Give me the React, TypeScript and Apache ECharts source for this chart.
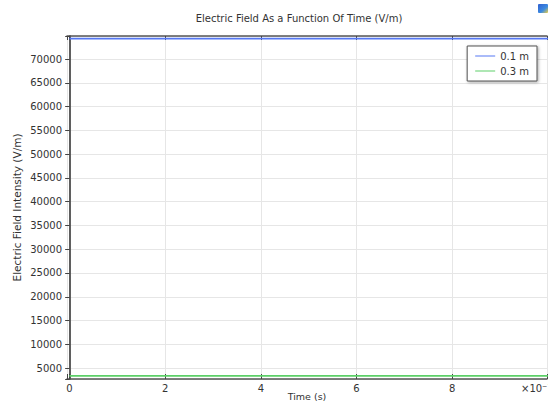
import React, { useEffect, useRef } from "react";
import * as echarts from "echarts";

const times = [0, 2, 4, 6, 8, 10];
const field01 = [74300, 74300, 74300, 74300, 74300, 74300];
const field03 = [3350, 3350, 3350, 3350, 3350, 3350];
const seriesNames = ["0.1 m", "0.3 m"];
const xTickLabels = ["0", "2", "4", "6", "8"];

const FONT = "DejaVu Sans, Noto Sans, sans-serif";

export default function App() {
  const ref = useRef<HTMLDivElement>(null);
  useEffect(() => {
    document.body.style.margin = "0";
    const chart = echarts.init(ref.current!, null, { renderer: "svg" });
    const pairs = (vals: number[]) => times.map((t, i) => [t, vals[i]]);
    const xLabel = (v: number) => {
      const idx = times.indexOf(v);
      return idx >= 0 && idx < xTickLabels.length ? xTickLabels[idx] : "";
    };
    chart.setOption({
      animation: false,
      backgroundColor: "#ffffff",
      textStyle: { fontFamily: FONT },
      title: {
        text: "Electric Field As a Function Of Time (V/m)",
        left: 294,
        textAlign: "center",
        top: 8,
        textStyle: { fontSize: 10, fontWeight: "normal", color: "#333", fontFamily: FONT },
      },
      grid: { left: 67, right: 1, top: 36, bottom: 26, outerBoundsMode: "none", containLabel: false },
      legend: {
        orient: "vertical",
        right: 11,
        top: 46,
        data: seriesNames,
        backgroundColor: "#fff",
        borderColor: "#555",
        borderWidth: 1,
        shadowColor: "rgba(0,0,0,0.35)",
        shadowBlur: 3,
        shadowOffsetX: 1,
        shadowOffsetY: 1,
        padding: [5, 8, 5, 8],
        itemGap: 5,
        itemWidth: 20,
        itemHeight: 10,
        textStyle: { fontSize: 10, color: "#333", fontFamily: FONT },
        icon: "path://M0,4.5 L20,4.5 L20,5.5 L0,5.5 Z",
      },
      xAxis: [
        {
          type: "value",
          min: -0.05,
          max: 9.98,
          minInterval: 2,
          maxInterval: 2,
          name: "Time (s)",
          nameLocation: "middle",
          nameGap: 12,
          nameMoveOverlap: false,
          nameTextStyle: { fontSize: 9.5, color: "#333", fontFamily: FONT },
          axisLine: { show: true, lineStyle: { color: "#555", width: 1.5 } },
          axisTick: { show: true, inside: true, length: 5, lineStyle: { color: "#444" } },
          axisLabel: { fontSize: 10, color: "#333", margin: 4, fontFamily: FONT, formatter: xLabel },
          splitLine: { show: true, lineStyle: { color: "#e6e6e6", width: 1 } },
        },
        {
          type: "value",
          position: "top",
          min: -0.05,
          max: 9.98,
          minInterval: 2,
          maxInterval: 2,
          axisLine: { show: true, lineStyle: { color: "#555", width: 1.5 } },
          axisTick: { show: true, inside: true, length: 4, lineStyle: { color: "#444" } },
          axisLabel: { show: false },
          splitLine: { show: false },
        },
      ],
      yAxis: [
        {
          type: "value",
          min: 2700,
          max: 74850,
          minInterval: 5000,
          maxInterval: 5000,
          name: "Electric Field Intensity (V/m)",
          nameLocation: "middle",
          nameGap: 45,
          nameMoveOverlap: false,
          nameTextStyle: { fontSize: 10.5, color: "#333", fontFamily: FONT },
          axisLine: { show: true, lineStyle: { color: "#555", width: 1.5 } },
          axisTick: { show: true, length: 4, lineStyle: { color: "#444" } },
          axisLabel: {
            fontSize: 10,
            color: "#333",
            margin: 5,
            fontFamily: FONT,
            formatter: (v: number) => (v % 5000 === 0 ? String(v) : ""),
          },
          splitLine: { show: true, lineStyle: { color: "#e6e6e6", width: 1 } },
        },
        {
          type: "value",
          position: "right",
          min: 2700,
          max: 74850,
          minInterval: 5000,
          maxInterval: 5000,
          axisLine: { show: true, lineStyle: { color: "#555", width: 1.5 } },
          axisTick: { show: true, inside: true, length: 4, lineStyle: { color: "#444" } },
          axisLabel: { show: false },
          splitLine: { show: false },
        },
      ],
      graphic: [
        {
          type: "text",
          left: 521,
          top: 383,
          style: { text: "×10⁻⁷", fontSize: 10, fill: "#333", fontFamily: FONT },
        },
        {
          type: "rect",
          shape: { x: 538, y: 4, width: 10, height: 9, r: 1 },
          style: {
            fill: new echarts.graphic.LinearGradient(0, 0, 1, 1, [
              { offset: 0, color: "#2f5fd0" },
              { offset: 0.6, color: "#3d8be0" },
              { offset: 1, color: "#f0d040" },
            ]),
          },
        },
      ],
      series: [
        {
          name: seriesNames[0],
          type: "line",
          data: pairs(field01),
          showSymbol: false,
          lineStyle: { color: "#5577f2", width: 1.8 },
          itemStyle: { color: "#5577f2" },
        },
        {
          name: seriesNames[1],
          type: "line",
          data: pairs(field03),
          showSymbol: false,
          lineStyle: { color: "#5ccf68", width: 1.8 },
          itemStyle: { color: "#5ccf68" },
        },
      ],
    });
    return () => chart.dispose();
  }, []);
  return <div ref={ref} style={{ width: 548, height: 405 }} />;
}
